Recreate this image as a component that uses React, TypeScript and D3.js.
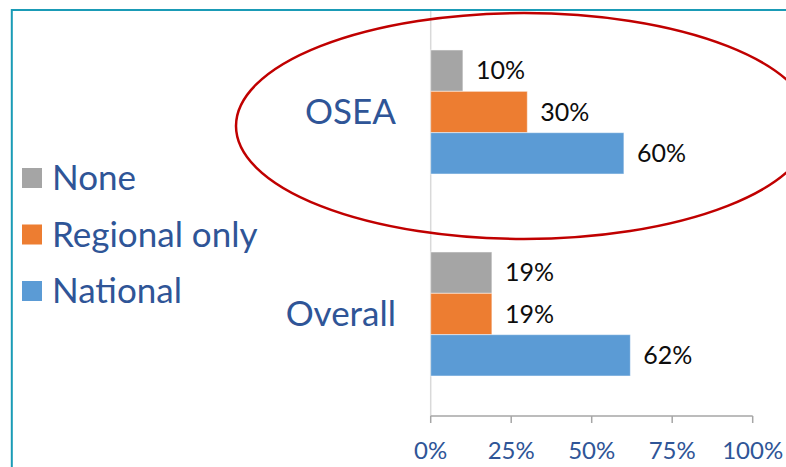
import React from "react";
import * as d3 from "d3";

const categories = ["OSEA", "Overall"];
const seriesNames = ["None", "Regional only", "National"];
const noneValues = [10, 19];
const regionalValues = [30, 19];
const nationalValues = [60, 62];
const tickValues = [0, 25, 50, 75, 100];
const seriesColors = ["#a5a5a5", "#ed7d31", "#5b9bd5"];

const W = 786;
const H = 467;
const FONT = "Lato, 'Open Sans', sans-serif";
const BLUE_TEXT = "#2f5597";

export default function App() {
  const x = d3.scaleLinear().domain([0, 100]).range([430.7, 752.7]);
  const y = d3
    .scaleBand<string>()
    .domain(categories)
    .range([10, 416])
    .paddingInner(0.386)
    .paddingOuter(0.198);
  const inner = d3
    .scaleBand<string>()
    .domain(seriesNames)
    .range([0, y.bandwidth()])
    .padding(0);
  const seriesValues = [noneValues, regionalValues, nationalValues];
  const axisY = 416;

  return (
    <svg
      width={W}
      height={H}
      style={{ position: "absolute", left: 0, top: 0, background: "#fff" }}
    >
      {/* frame */}
      <rect x={11.8} y={10} width={W + 20} height={H + 20} fill="none" stroke="#1a9bb6" strokeWidth={2} />

      {/* vertical category axis line */}
      <line x1={x(0)} x2={x(0)} y1={11} y2={axisY} stroke="#d9d9d9" strokeWidth={1.5} />

      {/* bars */}
      {categories.map((c, ci) =>
        seriesNames.map((s, si) => {
          const v = seriesValues[si][ci];
          const by = (y(c) as number) + (inner(s) as number);
          const bh = inner.bandwidth();
          return (
            <g key={c + s}>
              <rect
                x={x(0)}
                y={by}
                width={x(v) - x(0)}
                height={bh}
                fill={seriesColors[si]}
                stroke="#ffffff"
                strokeOpacity={0.5}
                strokeWidth={1}
              />
              <text
                x={x(v) + 13}
                y={by + bh / 2}
                dy="0.35em"
                fontFamily={FONT}
                fontSize={25}
                fill="#0d0d0d"
              >
                {v}%
              </text>
            </g>
          );
        })
      )}

      {/* category labels */}
      {categories.map((c) => (
        <text
          key={c}
          x={396}
          y={(y(c) as number) + y.bandwidth() / 2}
          dy="0.35em"
          textAnchor="end"
          fontFamily={FONT}
          fontSize={35}
          fill={BLUE_TEXT}
        >
          {c}
        </text>
      ))}

      {/* x axis */}
      <line x1={x(0)} x2={x(100)} y1={axisY} y2={axisY} stroke="#a6a6a6" strokeWidth={1.5} />
      {tickValues.map((t) => (
        <g key={t}>
          <line x1={x(t)} x2={x(t)} y1={axisY} y2={axisY + 7} stroke="#a6a6a6" strokeWidth={1.5} />
          <text
            x={x(t)}
            y={451}
            dy="0.35em"
            textAnchor="middle"
            fontFamily={FONT}
            fontSize={24}
            fill={BLUE_TEXT}
          >
            {t}%
          </text>
        </g>
      ))}

      {/* legend */}
      {seriesNames.map((s, i) => {
        const cy = 178 + i * 56.5;
        return (
          <g key={s}>
            <rect x={22} y={cy - 10} width={20} height={20} fill={seriesColors[i]} />
            <text
              x={52}
              y={cy}
              dy="0.35em"
              fontFamily={FONT}
              fontSize={35}
              fill={BLUE_TEXT}
            >
              {s}
            </text>
          </g>
        );
      })}

      {/* highlight ellipse */}
      <ellipse cx={524} cy={126} rx={288} ry={113} fill="none" stroke="#c00000" strokeWidth={2.5} />
    </svg>
  );
}
